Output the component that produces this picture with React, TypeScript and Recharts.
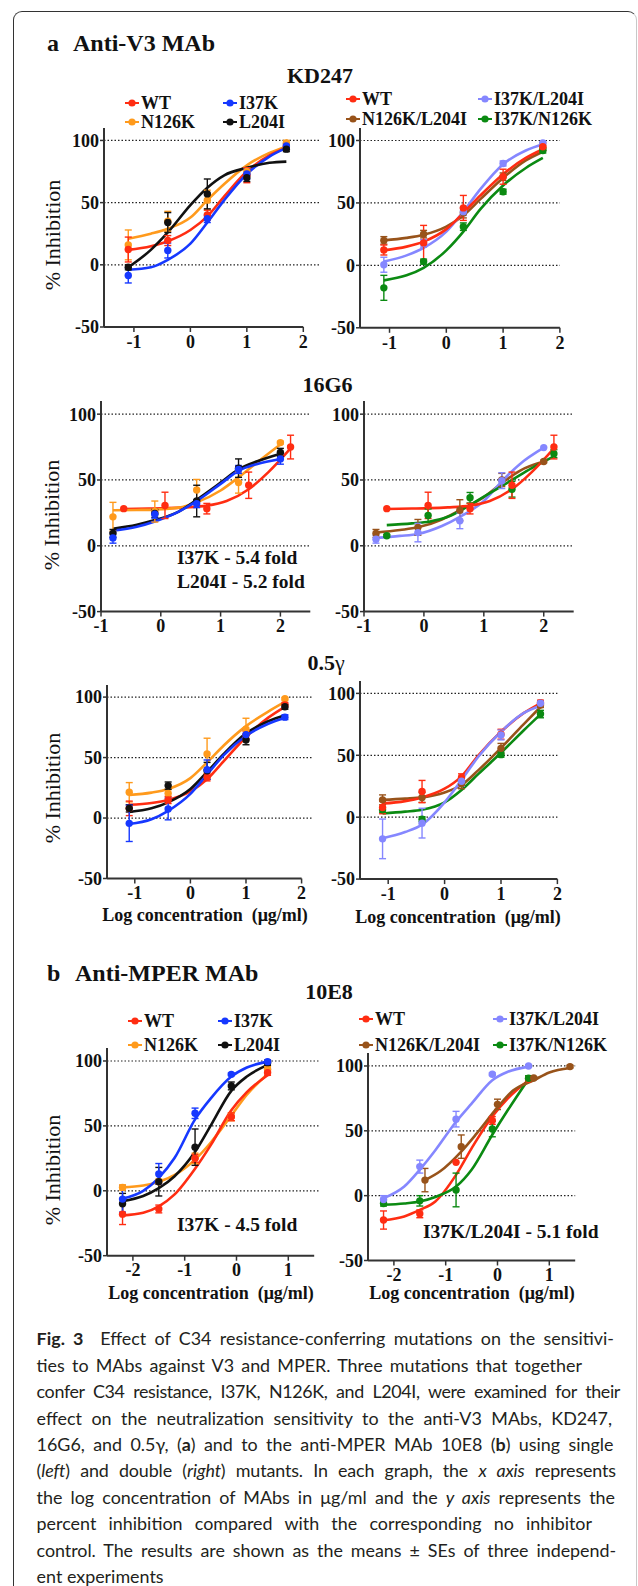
import React from 'react';
import { ComposedChart, Line, Scatter, ErrorBar, XAxis, YAxis, ReferenceLine } from 'recharts';

const SERIF = '"Liberation Serif", "Times New Roman", serif';
const SANS = 'Lato, "Noto Sans", sans-serif';

const RED = '#ff2d12';
const BLUE = '#1638ff';
const ORANGE = '#ff9a1c';
const BLACK = '#111111';
const PURPLE = '#8587ff';
const BROWN = '#98531a';
const GREEN = '#0b8a12';

const Y_TICKS = [-50, 0, 50, 100];
const GRID_Y = [0, 50, 100];

// KD247 / 0.5y concentrations (log ug/ml)
const KD_X = [-1.1, -0.4, 0.3, 1.0, 1.7];
const KD_FIT_X = [-1.1, -0.7, -0.4, 0, 0.3, 0.6, 1.0, 1.4, 1.7];
const KD_TICKS = [-1, 0, 1, 2];

// KD247, single mutants
const KD1_WT = [12.3, 19.5, 40, 72, 95];
const KD1_WT_ERR = [10, 4, 4, 6, 2];
const KD1_WT_FIT = [12, 15, 19, 28, 39, 55, 75, 88, 94];
const KD1_I37K = [-8.6, 11.5, 37, 73, 95.5];
const KD1_I37K_ERR = [6, 6, 3, 4, 2];
const KD1_I37K_FIT = [-4, -2, 4, 17, 34, 52, 73, 87, 94];
const KD1_N126K = [16, 35, 52, 75, 98];
const KD1_N126K_ERR = [12, 8, 8, 3, 2];
const KD1_N126K_FIT = [21, 25, 29, 38, 52, 65, 80, 90, 95];
const KD1_L204I = [-2, 34, 57, 70, 93];
const KD1_L204I_ERR = [2, 8, 12, 3, 2];
const KD1_L204I_FIT = [-2, 12, 26, 48, 62, 72, 78, 82, 83];

// KD247, double mutants
const KD2_WT = [12.3, 18, 46, 71, 95];
const KD2_WT_ERR = [4, 14, 10, 6, 3];
const KD2_WT_FIT = [12, 15, 19, 29, 42, 56, 73, 86, 93];
const KD2_I37K_L204I = [0.5, 17.6, 43, 81.6, 98];
const KD2_I37K_L204I_ERR = [6, 3, 3, 2, 1];
const KD2_I37K_L204I_FIT = [3, 8, 14, 27, 43, 61, 81, 92, 97];
const KD2_N126K_L204I = [20, 25, 42, 71, 94];
const KD2_N126K_L204I_ERR = [3, 3, 4, 3, 2];
const KD2_N126K_L204I_FIT = [20, 22, 24.5, 31, 40, 53, 70, 84, 91];
const KD2_I37K_N126K = [-18, 3, 31, 59, 92];
const KD2_I37K_N126K_ERR = [10, 2, 3, 2, 2];
const KD2_I37K_N126K_FIT = [-12, -8, -2, 12, 27, 45, 64, 78, 86];

// 16G6
const G_X = [-0.8, -0.1, 0.6, 1.3, 2.0];
const G_X_SHIFT = [-0.62, 0.07, 0.77, 1.47, 2.17];
const G_FIT_X = [-0.8, -0.4, -0.1, 0.3, 0.6, 1.0, 1.3, 1.6, 2.0];
const G_FIT_X_SHIFT = [-0.62, -0.2, 0.1, 0.4, 0.77, 1.1, 1.47, 1.8, 2.17];
const G_TICKS = [-1, 0, 1, 2];

const G_WT = [28.2, 30.7, 28.2, 46, 75];
const G_WT_ERR = [0, 10, 4, 10, 9];
const G_WT_FIT = [28, 28.3, 28.6, 29.2, 30.5, 34, 43, 56, 74];
const G1_N126K = [22, 26, 42.4, 48, 78.4];
const G1_N126K_ERR = [11, 8, 8, 8, 1];
const G1_N126K_FIT = [27, 27.2, 27.5, 29, 33, 42, 52, 63, 77];
const G1_L204I = [9.4, 24.6, 34, 59, 71];
const G1_L204I_ERR = [3, 3, 12, 7, 3];
const G1_L204I_FIT = [13, 16, 19.5, 26, 35, 48, 58, 64, 70];
const G1_I37K = [6, 24, 32, 58, 66];
const G1_I37K_ERR = [4, 3, 3, 3, 4];
const G1_I37K_FIT = [11.5, 14.5, 18.5, 26, 34, 47, 57, 62, 66];

const G2_I37K_L204I = [5, 10, 19, 49.5, 74.6];
const G2_I37K_L204I_ERR = [3, 7, 6, 6, 0];
const G2_I37K_L204I_FIT = [6, 7.5, 9, 15, 22, 34, 49, 62, 74.5];
const G2_N126K_L204I = [9.4, 14, 27, 50, 64];
const G2_N126K_L204I_ERR = [3, 6, 8, 5, 1];
const G2_N126K_L204I_FIT = [10, 12, 14, 20, 27, 37, 47.5, 57, 64];
const G2_I37K_N126K = [7.6, 23, 36.5, 43, 70];
const G2_I37K_N126K_ERR = [1, 5, 4, 6, 3];
const G2_I37K_N126K_FIT = [15.7, 17, 18.5, 22, 31, 40, 50, 59, 68];

// 0.5y, single mutants
const Y1_WT = [8, 15, 33.7, 68.8, 93.6];
const Y1_WT_ERR = [6, 3, 3, 3, 2];
const Y1_WT_FIT = [11, 12.5, 15, 22, 32, 47, 67, 83, 92];
const Y1_N126K = [21.3, 20.4, 53, 73.5, 98.6];
const Y1_N126K_ERR = [8, 3, 13, 9, 1];
const Y1_N126K_FIT = [19, 21, 24, 33, 46, 60, 76, 88, 96];
const Y1_L204I = [8, 26.8, 39, 64.6, 92];
const Y1_L204I_ERR = [3, 3, 7, 4, 2];
const Y1_L204I_FIT = [5, 8, 13, 24, 38, 53, 70, 80, 85];
const Y1_I37K = [-4.4, 7.5, 40, 69, 83.4];
const Y1_I37K_ERR = [15, 9, 8, 4, 2];
const Y1_I37K_FIT = [-5, -1, 6, 20, 36, 52, 68, 78, 83];

// 0.5y, double mutants
const Y2_WT = [7.8, 20.7, 32, 67, 92.5];
const Y2_WT_ERR = [5, 9, 3, 4, 2];
const Y2_WT_FIT = [11, 13, 16, 23, 33, 50, 69, 84, 92];
const Y2_N126K_L204I = [14, 16, 27, 55.6, 90.6];
const Y2_N126K_L204I_ERR = [4, 4, 4, 4, 2];
const Y2_N126K_L204I_FIT = [14, 15, 16, 20, 26, 38, 56, 75, 89];
const Y2_I37K_N126K = [6, -1.6, 28.8, 50.5, 83.3];
const Y2_I37K_N126K_ERR = [2, 2, 2, 2, 3];
const Y2_I37K_N126K_FIT = [3, 4.5, 6, 12, 22, 35, 52, 70, 83];
const Y2_I37K_L204I = [-17.5, -4.8, 29, 66.4, 92];
const Y2_I37K_L204I_ERR = [16, 12, 4, 4, 2];
const Y2_I37K_L204I_FIT = [-17, -12, -6, 12, 30, 49, 69, 84, 90];

// 10E8
const E_X = [-2.2, -1.5, -0.8, -0.1, 0.6];
const E_FIT_X = [-2.2, -1.8, -1.5, -1.2, -0.8, -0.5, -0.1, 0.2, 0.6];
const E_X_BROWN = [-1.4, -0.7, 0.0, 0.7, 1.4];
const E_FIT_X_BROWN = [-1.4, -1.1, -0.7, -0.4, 0, 0.3, 0.7, 1.0, 1.4];
const E_TICKS = [-2, -1, 0, 1];

const E1_WT = [-18, -14, 25, 57, 91];
const E1_WT_ERR = [8, 3, 3, 3, 2];
const E1_WT_FIT = [-19, -17, -12, -3, 17, 35, 62, 76, 89];
const E1_N126K = [2.6, 7, 25, 57, 93.6];
const E1_N126K_ERR = [2, 2, 4, 3, 2];
const E1_N126K_FIT = [2.6, 4, 7, 12, 24, 37, 58, 74, 90];
const E1_L204I = [-10, 7, 33.6, 80.8, 98.7];
const E1_L204I_ERR = [8, 11, 14, 3, 2];
const E1_L204I_FIT = [-8, -4, 2, 11, 30, 50, 77, 88, 97];
const E1_I37K = [-6.4, 13, 59.7, 89.7, 99.5];
const E1_I37K_ERR = [10, 8, 4, 1, 1];
const E1_I37K_FIT = [-6, 0, 10, 25, 55, 71, 88, 95, 99.5];

const E2_WT = [-18.8, -14, 25.7, 58, 90];
const E2_WT_ERR = [7, 3, 0, 3, 2];
const E2_WT_FIT = [-19, -16, -11, -4.5, 16, 36.5, 61, 75, 89];
const E2_I37K_L204I = [-3, 22.4, 59, 93.6, 100];
const E2_I37K_L204I_ERR = [3, 5, 6, 1, 1];
const E2_I37K_L204I_FIT = [-2, 7, 20, 35, 57, 71, 89, 95.5, 99.5];
const E2_N126K_L204I = [12, 37.8, 70.4, 90.7, 99.5];
const E2_N126K_L204I_ERR = [9, 9, 4, 1, 1];
const E2_N126K_L204I_FIT = [12, 19, 34, 48, 68, 81, 89, 95, 98.5];
const E2_I37K_N126K = [-6, -4, 4.4, 51.4, 90.5];
const E2_I37K_N126K_ERR = [2, 4, 13, 6, 2];
const E2_I37K_N126K_FIT = [-7, -6, -4.5, -1, 7, 20, 47, 66, 90];

type Series = {
  color: string;
  pts: { x: number; y: number; e: number }[];
  fit: { x: number; y: number }[];
};

function mk(color: string, xs: number[], ys: number[], es: number[], fx: number[], fy: number[]): Series {
  return {
    color,
    pts: xs.map((x, i) => ({ x, y: ys[i], e: es[i] })),
    fit: fx.map((x, i) => ({ x, y: fy[i] })),
  };
}

const TICK_STYLE = { fontFamily: SERIF, fontWeight: 700, fontSize: 18, fill: '#111' };

interface PanelProps {
  series: Series[];
  left: number;
  top: number;
  w: number;
  h: number;
  xDomain: [number, number];
  xTicks: number[];
  gridEnd: number;
}

function Panel({ series, left, top, w, h, xDomain, xTicks, gridEnd }: PanelProps) {
  const yw = 60;
  const padTop = 12;
  const padRight = 30;
  const xh = 34;
  return (
    <div style={{ position: 'absolute', left: left - yw, top: top - padTop }}>
      <ComposedChart
        width={yw + w + padRight}
        height={padTop + h + xh}
        margin={{ top: padTop, right: padRight, bottom: 0, left: 0 }}
      >
        <XAxis
          type="number"
          dataKey="x"
          domain={xDomain}
          ticks={xTicks}
          interval={0}
          height={xh}
          axisLine={{ stroke: '#333', strokeWidth: 2 }}
          tickLine={{ stroke: '#333', strokeWidth: 1.5 }}
          tickSize={5}
          tickMargin={3}
          tick={TICK_STYLE}
        />
        <YAxis
          type="number"
          dataKey="y"
          domain={[-50, 110]}
          ticks={Y_TICKS}
          interval={0}
          width={yw}
          axisLine={{ stroke: '#333', strokeWidth: 2 }}
          tickLine={{ stroke: '#333', strokeWidth: 1.5 }}
          tickSize={4}
          tickMargin={1}
          tick={TICK_STYLE}
        />
        {GRID_Y.map((v) => (
          <ReferenceLine
            key={'g' + v}
            segment={[{ x: xDomain[0], y: v }, { x: gridEnd, y: v }]}
            stroke="#222"
            strokeWidth={1.2}
            strokeDasharray="1.5 2"
            ifOverflow="visible"
          />
        ))}
        {series.map((s, i) => (
          <Line
            key={'l' + i}
            data={s.fit}
            dataKey="y"
            type="monotone"
            stroke={s.color}
            strokeWidth={2.6}
            dot={false}
            activeDot={false}
            isAnimationActive={false}
          />
        ))}
        {series.map((s, i) => (
          <Scatter
            key={'s' + i}
            data={s.pts}
            fill={s.color}
            isAnimationActive={false}
            shape={(p: any) => <circle cx={p.cx} cy={p.cy} r={3.7} fill={s.color} />}
          >
            <ErrorBar dataKey="e" direction="y" width={3.5} stroke={s.color} strokeWidth={1.4} />
          </Scatter>
        ))}
      </ComposedChart>
    </div>
  );
}

function Txt({ x, y, size, children, anchor = 'start', bold = true, family = SERIF }: any) {
  const tx = anchor === 'middle' ? '-50%' : anchor === 'end' ? '-100%' : '0';
  return (
    <div
      style={{
        position: 'absolute',
        left: x,
        top: y - size / 2,
        fontSize: size,
        lineHeight: `${size}px`,
        fontWeight: bold ? 700 : 400,
        fontFamily: family,
        whiteSpace: 'nowrap',
        color: '#111',
        transform: `translateX(${tx})`,
      }}
    >
      {children}
    </div>
  );
}

function Key({ x, y, color, label }: { x: number; y: number; color: string; label: string }) {
  return (
    <>
      <svg width={14} height={10} style={{ position: 'absolute', left: x, top: y - 5 }}>
        <line x1={0} y1={5} x2={14} y2={5} stroke={color} strokeWidth={2} />
        <circle cx={7} cy={5} r={3.6} fill={color} />
      </svg>
      <Txt x={x + 16} y={y} size={18}>{label}</Txt>
    </>
  );
}

function YLabel({ x, y }: { x: number; y: number }) {
  return (
    <div
      style={{
        position: 'absolute',
        left: x,
        top: y,
        transform: 'translate(-50%, -50%) rotate(-90deg)',
        fontSize: 22,
        fontFamily: SERIF,
        whiteSpace: 'nowrap',
        color: '#111',
      }}
    >
      % Inhibition
    </div>
  );
}

const CAPTION = [
  <><b>Fig. 3</b>&nbsp; Effect of C34 resistance-conferring mutations on the sensitivi-</>,
  <>ties to MAbs against V3 and MPER. Three mutations that together</>,
  <>confer C34 resistance, I37K, N126K, and L204I, were examined for their</>,
  <>effect on the neutralization sensitivity to the anti-V3 MAbs, KD247,</>,
  <>16G6, and 0.5γ, (<b>a</b>) and to the anti-MPER MAb 10E8 (<b>b</b>) using single</>,
  <>(<i>left</i>) and double (<i>right</i>) mutants. In each graph, the <i>x axis</i> represents</>,
  <>the log concentration of MAbs in μg/ml and the <i>y axis</i> represents the</>,
  <>percent inhibition compared with the corresponding no inhibitor</>,
  <>control. The results are shown as the means ± SEs of three independ-</>,
  <>ent experiments</>,
];
// right end of each caption line in the reference (px)
const CAPTION_END = [614, 582, 620, 612, 613.5, 616, 615, 592, 616, 0];
const CAPTION_SPACING = [0, 0, -0.36, 0, 0, -0.13, 0, 0, -0.05, 0];

export default function App() {
  const kd1 = [
    mk(ORANGE, KD_X, KD1_N126K, KD1_N126K_ERR, KD_FIT_X, KD1_N126K_FIT),
    mk(RED, KD_X, KD1_WT, KD1_WT_ERR, KD_FIT_X, KD1_WT_FIT),
    mk(BLUE, KD_X, KD1_I37K, KD1_I37K_ERR, KD_FIT_X, KD1_I37K_FIT),
    mk(BLACK, KD_X, KD1_L204I, KD1_L204I_ERR, KD_FIT_X, KD1_L204I_FIT),
  ];
  const kd2 = [
    mk(BROWN, KD_X, KD2_N126K_L204I, KD2_N126K_L204I_ERR, KD_FIT_X, KD2_N126K_L204I_FIT),
    mk(GREEN, KD_X, KD2_I37K_N126K, KD2_I37K_N126K_ERR, KD_FIT_X, KD2_I37K_N126K_FIT),
    mk(PURPLE, KD_X, KD2_I37K_L204I, KD2_I37K_L204I_ERR, KD_FIT_X, KD2_I37K_L204I_FIT),
    mk(RED, KD_X, KD2_WT, KD2_WT_ERR, KD_FIT_X, KD2_WT_FIT),
  ];
  const g1 = [
    mk(RED, G_X_SHIFT, G_WT, G_WT_ERR, G_FIT_X_SHIFT, G_WT_FIT),
    mk(ORANGE, G_X, G1_N126K, G1_N126K_ERR, G_FIT_X, G1_N126K_FIT),
    mk(BLACK, G_X, G1_L204I, G1_L204I_ERR, G_FIT_X, G1_L204I_FIT),
    mk(BLUE, G_X, G1_I37K, G1_I37K_ERR, G_FIT_X, G1_I37K_FIT),
  ];
  const g2 = [
    mk(BROWN, G_X, G2_N126K_L204I, G2_N126K_L204I_ERR, G_FIT_X, G2_N126K_L204I_FIT),
    mk(PURPLE, G_X, G2_I37K_L204I, G2_I37K_L204I_ERR, G_FIT_X, G2_I37K_L204I_FIT),
    mk(GREEN, G_X_SHIFT, G2_I37K_N126K, G2_I37K_N126K_ERR, G_FIT_X_SHIFT, G2_I37K_N126K_FIT),
    mk(RED, G_X_SHIFT, G_WT, G_WT_ERR, G_FIT_X_SHIFT, G_WT_FIT),
  ];
  const y1 = [
    mk(ORANGE, KD_X, Y1_N126K, Y1_N126K_ERR, KD_FIT_X, Y1_N126K_FIT),
    mk(RED, KD_X, Y1_WT, Y1_WT_ERR, KD_FIT_X, Y1_WT_FIT),
    mk(BLACK, KD_X, Y1_L204I, Y1_L204I_ERR, KD_FIT_X, Y1_L204I_FIT),
    mk(BLUE, KD_X, Y1_I37K, Y1_I37K_ERR, KD_FIT_X, Y1_I37K_FIT),
  ];
  const y2 = [
    mk(GREEN, KD_X, Y2_I37K_N126K, Y2_I37K_N126K_ERR, KD_FIT_X, Y2_I37K_N126K_FIT),
    mk(BROWN, KD_X, Y2_N126K_L204I, Y2_N126K_L204I_ERR, KD_FIT_X, Y2_N126K_L204I_FIT),
    mk(RED, KD_X, Y2_WT, Y2_WT_ERR, KD_FIT_X, Y2_WT_FIT),
    mk(PURPLE, KD_X, Y2_I37K_L204I, Y2_I37K_L204I_ERR, KD_FIT_X, Y2_I37K_L204I_FIT),
  ];
  const e1 = [
    mk(ORANGE, E_X, E1_N126K, E1_N126K_ERR, E_FIT_X, E1_N126K_FIT),
    mk(RED, E_X, E1_WT, E1_WT_ERR, E_FIT_X, E1_WT_FIT),
    mk(BLACK, E_X, E1_L204I, E1_L204I_ERR, E_FIT_X, E1_L204I_FIT),
    mk(BLUE, E_X, E1_I37K, E1_I37K_ERR, E_FIT_X, E1_I37K_FIT),
  ];
  const e2 = [
    mk(RED, E_X, E2_WT, E2_WT_ERR, E_FIT_X, E2_WT_FIT),
    mk(GREEN, E_X, E2_I37K_N126K, E2_I37K_N126K_ERR, E_FIT_X, E2_I37K_N126K_FIT),
    mk(BROWN, E_X_BROWN, E2_N126K_L204I, E2_N126K_L204I_ERR, E_FIT_X_BROWN, E2_N126K_L204I_FIT),
    mk(PURPLE, E_X, E2_I37K_L204I, E2_I37K_L204I_ERR, E_FIT_X, E2_I37K_L204I_FIT),
  ];

  return (
    <div style={{ position: 'absolute', left: 0, top: 0, width: 638, height: 1586, background: '#fff', overflow: 'hidden' }}>
      <div
        style={{
          position: 'absolute',
          left: 13,
          top: 11,
          width: 622,
          height: 1620,
          borderTop: '1.5px solid #333',
          borderLeft: '1.5px solid #333',
          borderRight: '1.5px solid #c8c8c8',
          borderRadius: '9px 9px 0 0',
        }}
      />

      <Txt x={47} y={43} size={24}>a</Txt>
      <Txt x={73} y={43} size={24}>Anti-V3 MAb</Txt>
      <Txt x={320} y={76} size={22} anchor="middle">KD247</Txt>

      <Key x={125} y={103} color={RED} label="WT" />
      <Key x={223} y={103} color={BLUE} label="I37K" />
      <Key x={125} y={121.7} color={ORANGE} label="N126K" />
      <Key x={223} y={121.7} color={BLACK} label="L204I" />
      <Key x={346} y={99.3} color={RED} label="WT" />
      <Key x={478} y={99.3} color={PURPLE} label="I37K/L204I" />
      <Key x={346} y={119.3} color={BROWN} label="N126K/L204I" />
      <Key x={478} y={119.3} color={GREEN} label="I37K/N126K" />

      <YLabel x={53} y={235} />
      <Panel series={kd1} left={104} top={128.3} w={199.3} h={199} xDomain={[-1.53, 2]} xTicks={KD_TICKS} gridEnd={2.3} />
      <Panel series={kd2} left={359.7} top={128.2} w={199.9} h={199.8} xDomain={[-1.52, 2]} xTicks={KD_TICKS} gridEnd={2} />

      <Txt x={327.5} y={385} size={22} anchor="middle">16G6</Txt>
      <YLabel x={52} y={515} />
      <Panel series={g1} left={100.9} top={401.1} w={209.3} h={210.6} xDomain={[-1, 2.5]} xTicks={G_TICKS} gridEnd={2.5} />
      <Panel series={g2} left={364.1} top={401.1} w={209.7} h={210.6} xDomain={[-1, 2.5]} xTicks={G_TICKS} gridEnd={2.5} />
      <Txt x={177} y={558} size={19.5}>I37K - 5.4 fold</Txt>
      <Txt x={177} y={581.7} size={19.5}>L204I - 5.2 fold</Txt>

      <Txt x={326} y={663} size={22} anchor="middle">
        0.5<span style={{ fontWeight: 400 }}>γ</span>
      </Txt>
      <YLabel x={53} y={788} />
      <Panel series={y1} left={107.3} top={685.2} w={194.6} h={193.5} xDomain={[-1.5, 2]} xTicks={KD_TICKS} gridEnd={2.18} />
      <Panel series={y2} left={359.7} top={680.9} w={197.4} h={198.1} xDomain={[-1.5, 2]} xTicks={KD_TICKS} gridEnd={2} />
      <Txt x={205} y={915} size={18} anchor="middle">Log concentration&nbsp; (μg/ml)</Txt>
      <Txt x={458} y={916.7} size={18} anchor="middle">Log concentration&nbsp; (μg/ml)</Txt>

      <Txt x={47} y={973.3} size={24}>b</Txt>
      <Txt x={75} y={973.3} size={24}>Anti-MPER MAb</Txt>
      <Txt x={329} y={992} size={22} anchor="middle">10E8</Txt>

      <Key x={128} y={1020.7} color={RED} label="WT" />
      <Key x={218} y={1020.7} color={BLUE} label="I37K" />
      <Key x={128} y={1045} color={ORANGE} label="N126K" />
      <Key x={218} y={1045} color={BLACK} label="L204I" />
      <Key x={359} y={1019.3} color={RED} label="WT" />
      <Key x={493} y={1019.3} color={PURPLE} label="I37K/L204I" />
      <Key x={359} y={1045} color={BROWN} label="N126K/L204I" />
      <Key x={493} y={1045} color={GREEN} label="I37K/N126K" />

      <YLabel x={53} y={1170} />
      <Panel series={e1} left={107.2} top={1048} w={207.2} h={207.7} xDomain={[-2.5, 1.5]} xTicks={E_TICKS} gridEnd={1.6} />
      <Panel series={e2} left={367.7} top={1053.1} w={207.2} h={207.5} xDomain={[-2.5, 1.5]} xTicks={E_TICKS} gridEnd={1.5} />
      <Txt x={177} y={1225} size={19.5}>I37K - 4.5 fold</Txt>
      <Txt x={423} y={1231.7} size={19.5}>I37K/L204I - 5.1 fold</Txt>
      <Txt x={211} y={1293} size={18} anchor="middle">Log concentration&nbsp; (μg/ml)</Txt>
      <Txt x={472} y={1293} size={18} anchor="middle">Log concentration&nbsp; (μg/ml)</Txt>

      {CAPTION.map((line, i) => {
        const end = CAPTION_END[i];
        return (
          <div
            key={i}
            style={{
              position: 'absolute',
              left: 36.6,
              top: 1338.3 + i * 26.4 - 13,
              width: end ? end - 36.6 : undefined,
              height: 26,
              lineHeight: '26px',
              fontSize: 17.9,
              letterSpacing: CAPTION_SPACING[i],
              fontFamily: SANS,
              color: '#231f20',
              whiteSpace: 'nowrap',
              textAlign: end ? 'justify' : 'left',
              textAlignLast: end ? 'justify' : 'left',
            }}
          >
            {line}
          </div>
        );
      })}
    </div>
  );
}
